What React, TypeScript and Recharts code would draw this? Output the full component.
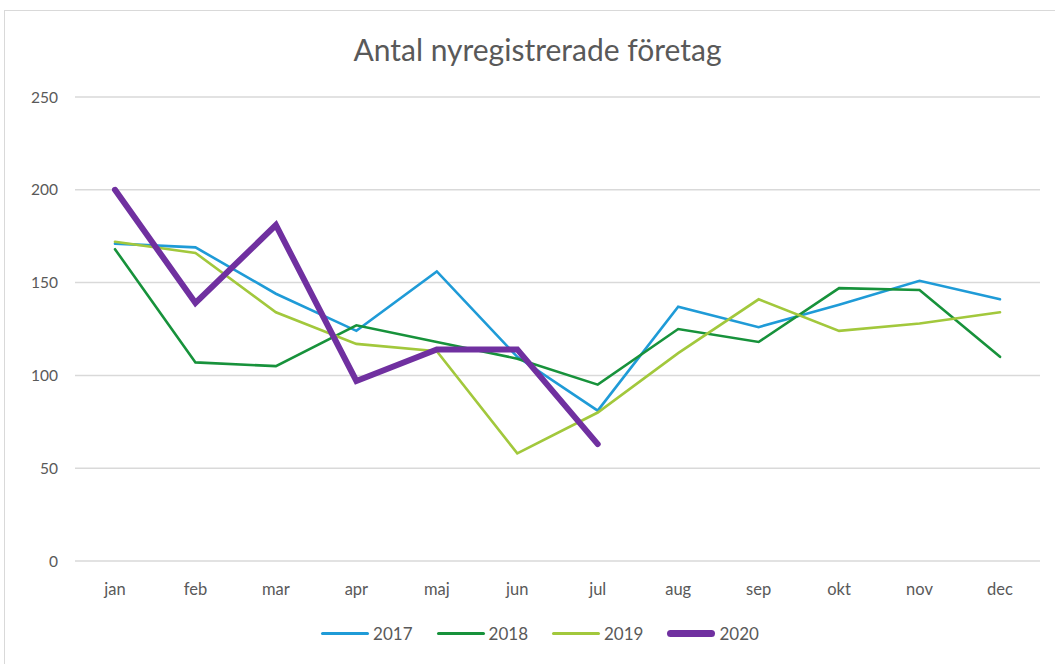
import React from 'react';
import { LineChart, Line, XAxis, YAxis, CartesianGrid } from 'recharts';

const months = ['jan', 'feb', 'mar', 'apr', 'maj', 'jun', 'jul', 'aug', 'sep', 'okt', 'nov', 'dec'];
const values2017 = [171, 169, 144, 124, 156, 110, 81, 137, 126, 138, 151, 141];
const values2018 = [168, 107, 105, 127, 118, 109, 95, 125, 118, 147, 146, 110];
const values2019 = [172, 166, 134, 117, 113, 58, 80, 112, 141, 124, 128, 134];
const values2020 = [200, 139, 181, 97, 114, 114, 63, null, null, null, null, null];
const yTicks = [0, 50, 100, 150, 200, 250];
const title = 'Antal nyregistrerade företag';

const series = [
  { key: 'y2017', name: '2017', values: values2017, color: '#1f9bd7', width: 2.6 },
  { key: 'y2018', name: '2018', values: values2018, color: '#17923b', width: 2.6 },
  { key: 'y2019', name: '2019', values: values2019, color: '#a2c83c', width: 2.6 },
  { key: 'y2020', name: '2020', values: values2020, color: '#7030a0', width: 6 },
];

const data = months.map((m, i) => {
  const row: any = { month: m };
  series.forEach((s) => {
    row[s.key] = s.values[i];
  });
  return row;
});

const FONT = 'Lato, "Open Sans", sans-serif';
const TEXT = '#595959';

export default function App() {
  return (
    <div style={{ position: 'absolute', left: 0, top: 0, width: 1055, height: 664, background: '#fff', overflow: 'hidden', fontFamily: FONT }}>
      <div style={{ position: 'absolute', left: 4, top: 10, width: 1070, height: 680, border: '1px solid #d9d9d9', boxSizing: 'border-box' }} />
      <div style={{ position: 'absolute', left: 0, top: 29, width: 1075, textAlign: 'center', fontSize: 30, color: TEXT, lineHeight: '40px' }}>{title}</div>
      <div style={{ position: 'absolute', left: 0, top: 0 }}>
        <LineChart width={1055} height={664} data={data} margin={{ top: 97, right: 15, bottom: 73, left: 0 }}>
          <CartesianGrid vertical={false} stroke="#d9d9d9" strokeWidth={1.5} />
          <XAxis
            dataKey="month"
            axisLine={false}
            tickLine={false}
            padding={{ left: 40, right: 40 }}
            height={30}
            tickMargin={16}
            tick={{ fill: TEXT, fontSize: 16.5, fontFamily: FONT }}
          />
          <YAxis
            domain={[0, 250]}
            ticks={yTicks}
            width={75}
            axisLine={false}
            tickLine={false}
            tickMargin={11}
            tick={{ fill: TEXT, fontSize: 15.5, fontFamily: FONT }}
          />
          {series.map((s) => (
            <Line
              key={s.key}
              dataKey={s.key}
              name={s.name}
              stroke={s.color}
              strokeWidth={s.width}
              dot={false}
              activeDot={false}
              isAnimationActive={false}
              strokeLinejoin="miter"
              strokeLinecap="round"
            />
          ))}
        </LineChart>
      </div>
      <div style={{ position: 'absolute', left: 0, top: 623, width: 1080, display: 'flex', justifyContent: 'center', alignItems: 'center', gap: 24, fontSize: 17, color: TEXT }}>
        {series.map((s) => (
          <div key={s.key} style={{ display: 'flex', alignItems: 'center' }}>
            <div style={{ width: 48, height: s.width + 0.5, background: s.color, borderRadius: s.width, marginRight: 4 }} />
            <span>{s.name}</span>
          </div>
        ))}
      </div>
    </div>
  );
}
